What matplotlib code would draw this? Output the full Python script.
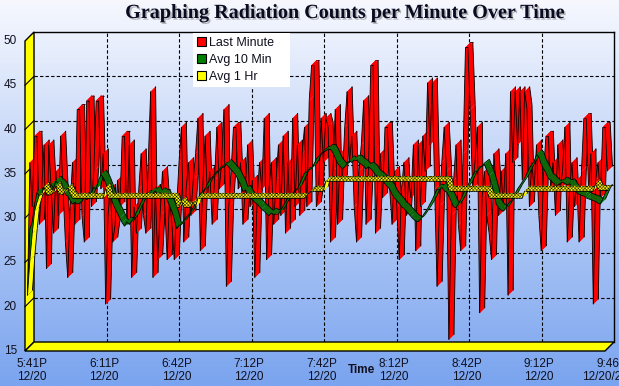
import numpy as np
import matplotlib

matplotlib.use("Agg")
import matplotlib.pyplot as plt
import matplotlib.patheffects as pe
from matplotlib.colors import LinearSegmentedColormap
from matplotlib.patches import Patch, PathPatch, Polygon
from matplotlib.path import Path

W, H, DPI = 619, 386, 100
# back plane of the 3D box, in pixels: left, top, right, bottom
BACK_L, BACK_T, BACK_R, BACK_B = 34, 32, 614, 342
DEPTH = 9          # wall depth (px)
RIB_BACK, RIB_FRONT = 1.5, 6.5   # ribbon depth range (px in front of back plane)

TITLE = "Graphing Radiation Counts per Minute Over Time"
SERIES_NAMES = ["Last Minute", "Avg 10 Min", "Avg 1 Hr"]
SERIES_COLORS = ["#FF0000", "#008000", "#FFFF00"]
Y_TICKS = [15, 20, 25, 30, 35, 40, 45, 50]
TICK_LABELS = ["5:41P\n12/20", "6:11P\n12/20", "6:42P\n12/20", "7:12P\n12/20",
               "7:42P\n12/20", "8:12P\n12/20", "8:42P\n12/20", "9:12P\n12/20",
               "9:46P\n12/20/2010"]

# counts per minute, one value per minute from 5:41P
LAST_MINUTE = [
    21, 36, 31, 39, 39, 29, 33, 38, 24, 38,
    33, 28, 35, 30, 39, 33, 27, 23, 31, 36,
    29, 42, 42, 30, 27, 43, 43, 31, 35, 43,
    43, 33, 37, 20, 30, 33, 27, 29, 34, 31,
    39, 39, 29, 38, 23, 31, 28, 33, 37, 30,
    28, 36, 44, 23, 33, 25, 30, 35, 31, 25,
    32, 29, 25, 31, 36, 40, 27, 33, 36, 30,
    34, 37, 41, 26, 33, 39, 32, 35, 29, 34,
    40, 33, 36, 42, 22, 31, 35, 40, 40, 33,
    36, 29, 33, 38, 31, 34, 23, 32, 36, 33,
    41, 25, 33, 36, 29, 34, 38, 30, 39, 28,
    36, 29, 41, 31, 38, 30, 37, 40, 31, 43,
    47, 47, 31, 33, 41, 36, 41, 40, 27, 35,
    42, 29, 37, 34, 40, 44, 36, 39, 31, 27,
    35, 38, 43, 29, 35, 47, 47, 28, 34, 37,
    32, 40, 40, 33, 29, 35, 31, 25, 33, 36,
    30, 34, 32, 38, 26, 38, 31, 39, 35, 45,
    38, 45, 33, 22, 31, 36, 40, 35, 16, 30,
    34, 38, 29, 26, 37, 49, 49, 42, 33, 36,
    40, 19, 32, 35, 30, 28, 25, 37, 33, 30,
    35, 31, 37, 21, 44, 36, 44, 38, 44, 34,
    44, 42, 31, 36, 33, 38, 30, 26, 35, 39,
    39, 33, 36, 30, 38, 33, 35, 40, 27, 33,
    36, 31, 34, 27, 35, 41, 41, 33, 37, 20,
    34, 36, 32, 40, 40, 35,
]

AVG_10_MIN = [
    21.0, 28.5, 29.3, 31.3, 32.6, 32.2, 32.5, 33.2, 32.3, 32.7,
    33.5, 33.1, 33.9, 33.6, 33.4, 33.0, 32.4, 32.2, 31.7, 31.3,
    31.5, 31.3, 31.4, 31.6, 32.1, 31.8, 32.0, 32.6, 33.2, 33.0,
    34.0, 34.6, 34.3, 33.7, 33.0, 32.2, 31.4, 30.8, 30.3, 29.7,
    29.2, 28.8, 29.3, 29.0, 29.4, 29.7, 30.4, 30.9, 31.5, 32.0,
    32.3, 32.1, 32.6, 32.5, 32.8, 32.3, 32.6, 32.4, 32.4, 31.8,
    31.1, 30.5, 29.6, 28.5, 28.9, 29.0, 29.4, 29.8, 30.1, 30.5,
    30.9, 31.4, 31.9, 32.5, 32.7, 33.0, 33.6, 34.0, 34.3, 34.7,
    35.0, 35.1, 35.4, 35.5, 35.8, 35.5, 35.2, 34.9, 34.6, 34.0,
    33.5, 32.7, 32.9, 32.4, 32.0, 31.8, 31.5, 31.3, 31.0, 30.7,
    30.5, 30.2, 30.0, 30.3, 30.1, 30.2, 30.2, 30.6, 31.1, 31.5,
    32.0, 32.3, 32.5, 32.8, 33.0, 33.6, 34.2, 34.8, 34.9, 35.2,
    35.3, 35.8, 36.4, 36.7, 37.0, 37.2, 37.3, 37.5, 37.5, 37.1,
    36.5, 35.9, 35.6, 35.3, 35.5, 35.9, 36.2, 36.0, 36.3, 36.3,
    36.0, 35.8, 35.6, 35.3, 35.5, 35.3, 35.0, 34.6, 34.4, 34.2,
    33.9, 33.6, 33.3, 33.0, 32.4, 32.0, 31.7, 31.4, 31.0, 30.8,
    30.5, 30.2, 29.9, 29.6, 29.4, 29.3, 29.6, 30.0, 30.4, 30.8,
    31.3, 31.8, 32.4, 33.0, 32.9, 33.2, 32.8, 32.7, 32.2, 31.6,
    31.0, 30.9, 31.3, 31.8, 32.4, 33.0, 33.4, 34.0, 34.5, 35.0,
    35.0, 35.4, 35.6, 35.8, 35.1, 34.5, 33.6, 32.6, 31.3, 30.9,
    30.6, 30.5, 30.8, 31.3, 31.6, 32.0, 32.5, 33.0, 33.4, 33.8,
    34.2, 34.8, 35.3, 35.8, 36.1, 36.9, 36.6, 35.8, 35.3, 34.8,
    34.2, 34.0, 33.7, 33.5, 33.5, 33.6, 33.8, 33.6, 33.5, 33.6,
    33.2, 32.8, 32.6, 32.4, 32.3, 32.2, 32.0, 31.9, 31.8, 31.7,
    31.6, 31.4, 31.3, 31.9, 32.5, 33.0,
]

AVG_1_HR = [
    21.0, 25.0, 28.0, 30.5, 31.5, 32.3, 32.4, 33.2, 32.4, 32.3,
    32.4, 32.6, 33.3, 32.5, 32.4, 32.4, 32.8, 33.1, 32.4, 32.0,
    32.0, 32.0, 32.0, 32.0, 32.0, 32.0, 32.0, 32.0, 32.0, 32.0,
    32.0, 32.0, 32.0, 33.1, 32.0, 32.0, 32.0, 32.0, 32.0, 32.0,
    32.0, 32.0, 32.0, 32.0, 32.0, 32.0, 32.0, 32.0, 32.0, 32.0,
    32.0, 32.0, 32.0, 32.0, 32.0, 32.0, 32.0, 32.0, 32.0, 32.0,
    32.0, 32.0, 32.0, 31.0, 31.0, 31.6, 31.0, 31.0, 31.0, 31.0,
    31.5, 31.0, 32.0, 32.0, 32.0, 32.0, 32.0, 32.0, 32.0, 32.0,
    32.0, 32.0, 32.0, 32.0, 32.0, 32.0, 32.0, 32.0, 32.0, 32.0,
    32.0, 32.0, 32.0, 32.0, 32.0, 32.0, 32.0, 32.0, 32.0, 32.0,
    32.0, 32.0, 32.0, 32.0, 32.0, 32.0, 32.0, 32.0, 32.0, 32.0,
    32.0, 32.0, 32.0, 32.0, 32.0, 32.0, 32.0, 32.0, 32.3, 32.6,
    32.8, 32.8, 32.8, 32.8, 32.8, 32.8, 33.9, 33.9, 33.9, 33.9,
    33.9, 33.9, 33.9, 33.9, 33.9, 33.9, 33.9, 33.9, 33.9, 33.9,
    33.9, 33.9, 33.9, 33.9, 33.9, 33.9, 33.9, 33.9, 33.9, 33.9,
    33.9, 33.9, 33.9, 33.9, 33.9, 33.9, 33.9, 33.9, 33.9, 33.9,
    33.9, 33.9, 33.9, 33.9, 33.9, 33.9, 33.9, 33.9, 33.9, 33.9,
    33.9, 33.9, 33.9, 33.9, 33.9, 33.9, 33.9, 33.9, 32.8, 32.8,
    32.8, 32.8, 32.8, 32.8, 32.8, 32.8, 32.8, 32.8, 32.8, 32.8,
    32.8, 32.8, 32.8, 32.8, 32.8, 32.0, 32.0, 32.0, 32.0, 32.0,
    32.0, 32.0, 32.0, 32.0, 32.0, 32.0, 32.0, 32.0, 32.0, 32.0,
    32.8, 32.8, 32.8, 32.8, 32.8, 32.8, 32.8, 32.8, 32.8, 32.8,
    32.8, 32.8, 32.8, 32.8, 32.8, 32.8, 32.8, 32.8, 32.8, 32.8,
    32.8, 32.8, 32.8, 32.8, 32.8, 32.8, 32.8, 32.8, 32.8, 32.8,
    33.6, 32.9, 32.9, 32.9, 32.9, 32.9,
]

FONT = "Liberation Sans"
TEXT_COLOR = "#101020"
EDGE_CODES = [Path.MOVETO, Path.LINETO, Path.MOVETO, Path.LINETO]


def draw_ribbon(ax, xs, ys, color, top_color, top_hatch, zorder, sx, sy):
    """Draw a zero-thickness 3D ribbon: one face and its two long edges per segment."""
    for i in range(len(xs) - 1):
        x0, x1 = xs[i], xs[i + 1]
        y0, y1 = ys[i], ys[i + 1]
        f0 = (x0 - RIB_FRONT * sx, y0 - RIB_FRONT * sy)
        f1 = (x1 - RIB_FRONT * sx, y1 - RIB_FRONT * sy)
        b0 = (x0 - RIB_BACK * sx, y0 - RIB_BACK * sy)
        b1 = (x1 - RIB_BACK * sx, y1 - RIB_BACK * sy)
        # top face is visible when the segment is flatter than the depth direction
        top = (x1 - x0) / sx > (y1 - y0) / sy
        shaded = top and top_color is not None
        # black edgecolor with zero width: the hatch takes the edge colour
        ax.add_patch(Polygon([f0, f1, b1, b0], closed=True,
                             facecolor=top_color if shaded else color,
                             edgecolor="black", linewidth=0, zorder=zorder, clip_on=False,
                             hatch=top_hatch if shaded else None))
        ax.add_patch(PathPatch(Path([f0, f1, b0, b1], EDGE_CODES), fill=False,
                               edgecolor="black", linewidth=0.6, zorder=zorder,
                               clip_on=False))


def main():
    plt.rcParams["hatch.linewidth"] = 0.35
    fig = plt.figure(figsize=(W / DPI, H / DPI), dpi=DPI)

    # background gradient
    bg = fig.add_axes([0, 0, 1, 1], zorder=-10)
    cmap = LinearSegmentedColormap.from_list("bg", ["#7AA4EF", "#F6F8FE"])
    bg.imshow(np.linspace(0, 1, 256).reshape(-1, 1), aspect="auto", cmap=cmap,
              origin="lower", extent=[0, 1, 0, 1])
    bg.set_axis_off()

    ax = fig.add_axes([BACK_L / W, 1 - BACK_B / H, (BACK_R - BACK_L) / W, (BACK_B - BACK_T) / H])
    ax.set_facecolor("none")
    n = len(LAST_MINUTE)
    xmax = n - 1
    ax.set_xlim(0, xmax)
    ax.set_ylim(Y_TICKS[0], Y_TICKS[-1])
    ax.set_xticks([])
    ax.set_yticks([])
    for side in ["left", "bottom"]:
        ax.spines[side].set_visible(False)
    for side in ["top", "right"]:
        ax.spines[side].set_linewidth(1.0)
        ax.spines[side].set_zorder(3)

    sx = xmax / (BACK_R - BACK_L)                     # data units per pixel
    sy = (Y_TICKS[-1] - Y_TICKS[0]) / (BACK_B - BACK_T)
    ymin, ymax = Y_TICKS[0], Y_TICKS[-1]
    tick_pos = [i * xmax / (len(TICK_LABELS) - 1) for i in range(len(TICK_LABELS))]

    # back-plane grid
    for v in Y_TICKS[1:-1]:
        ax.plot([0, xmax], [v, v], color="black", lw=0.8, ls=(0, (3, 2)), zorder=1)
    for t in tick_pos[1:-1]:
        ax.plot([t, t], [ymin, ymax], color="black", lw=0.8, ls=(0, (3, 2)), zorder=1)

    # yellow left wall and floor
    dx, dy = DEPTH * sx, DEPTH * sy
    wall = Polygon([(0, ymax), (0, ymin), (-dx, ymin - dy), (-dx, ymax - dy)],
                   facecolor="#FFFF00", edgecolor="black", lw=1.0, zorder=2, clip_on=False)
    floor = Polygon([(0, ymin), (xmax, ymin), (xmax - dx, ymin - dy), (-dx, ymin - dy)],
                    facecolor="#FFFF00", edgecolor="black", lw=1.0, zorder=2, clip_on=False)
    ax.add_patch(wall)
    ax.add_patch(floor)
    for v in Y_TICKS[1:-1]:
        ax.plot([0, -dx], [v, v - dy], color="black", lw=0.8, zorder=2.5, clip_on=False)

    xs = np.arange(n, dtype=float)
    draw_ribbon(ax, xs, np.asarray(LAST_MINUTE, float), SERIES_COLORS[0], None, None, 4, sx, sy)
    draw_ribbon(ax, xs, np.asarray(AVG_10_MIN, float), SERIES_COLORS[1], "#0A6A0A", None, 5, sx, sy)
    draw_ribbon(ax, xs, np.asarray(AVG_1_HR, float), SERIES_COLORS[2], "#FFFF00", "x" * 10, 6, sx, sy)

    # axis labels on the front plane
    for v in Y_TICKS:
        ax.text(-17 * sx, v - dy, str(v), ha="right", va="center", fontsize=8.5,
                family=FONT, color=TEXT_COLOR, clip_on=False)
    for t, lab in zip(tick_pos, TICK_LABELS):
        ax.text(t - 2.5 * sx, ymin - 16 * sy, lab, ha="center", va="top", fontsize=8.5,
                family=FONT, color=TEXT_COLOR, linespacing=1.15, multialignment="center",
                clip_on=False)

    fig.text(361 / W, 1 - 370 / H, "Time", ha="center", va="center", fontsize=8.5,
             family=FONT, weight="bold", color=TEXT_COLOR)
    fig.text(345 / W, 1 - 13 / H, TITLE, ha="center", va="center", fontsize=14.5,
             family="Liberation Serif", weight="bold", color="#0A0A20",
             path_effects=[pe.withSimplePatchShadow(offset=(1.2, -1.2), shadow_rgbFace="#777777", alpha=0.5)])

    handles = [Patch(facecolor=c, edgecolor="black", linewidth=0.8) for c in SERIES_COLORS]
    leg = ax.legend(handles, SERIES_NAMES, loc="upper left", mode="expand",
                    bbox_to_anchor=(193 / W, 1 - 88 / H, 97 / W, 55 / H),
                    bbox_transform=fig.transFigure, frameon=True, fancybox=False,
                    framealpha=1, facecolor="white", edgecolor="none",
                    prop={"family": FONT, "size": 9}, handlelength=0.75,
                    handleheight=0.75, handletextpad=0.25, labelspacing=0.42,
                    borderpad=0.3, borderaxespad=0)
    for txt in leg.get_texts():
        txt.set_color(TEXT_COLOR)
    leg.set_zorder(20)

    fig.savefig("out.png", dpi=DPI)
    plt.close(fig)


if __name__ == "__main__":
    main()
